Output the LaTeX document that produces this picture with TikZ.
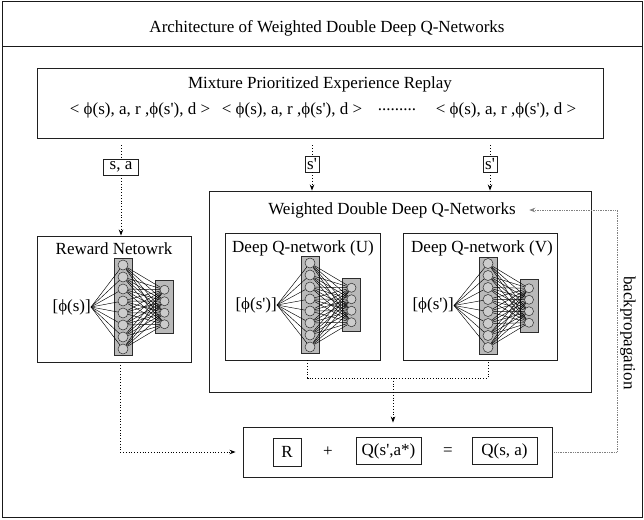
\documentclass[tikz,border=0pt]{standalone}
\usepackage{fontspec}
\setmainfont{Liberation Serif}
\usetikzlibrary{arrows.meta}

\begin{document}
\begin{tikzpicture}[x=1pt, y=-1pt,
    font=\fontsize{17}{20}\selectfont,
    box/.style={draw=gray!25!black, line width=0.9pt, inner sep=0pt},
    tag/.style={draw=gray!25!black, line width=0.8pt, inner sep=0pt, minimum height=16pt, fill=white},
    layer/.style={draw=gray!35!black, fill=gray!55, line width=0.6pt, inner sep=0pt, minimum width=18pt},
    unit/.style={circle, draw=gray!35!black, fill=gray!40, inner sep=0pt, line width=0.5pt},
    wire/.style={line width=0.45pt},
    link/.style={dotted, line width=0.8pt},
    flow/.style={link, -{Stealth[length=6pt,width=4.5pt]}},
    backflow/.style={densely dotted, gray, line width=0.7pt, -{Stealth[length=6pt,width=4.5pt]}}]
    \useasboundingbox (0,0) rectangle (644,519);

    % Frame and title
    \draw[draw=gray!20!black, line width=1pt] (2,2) rectangle (642,517);
    \draw[draw=gray!20!black, line width=1pt] (2,47) -- (642,47);
    \node (title) at (327,28) {Architecture of Weighted Double Deep Q-Networks};

    % Replay memory
    \node[box, minimum width=566pt, minimum height=70pt] (replay) at (320,103) {};
    \node (replaytitle) at (320,84) {Mixture Prioritized Experience Replay};
    \node (tup1) at (140,110) {< ϕ(s), a, r ,ϕ(s\textquotesingle), d >};
    \node (tup2) at (292,110) {< ϕ(s), a, r ,ϕ(s\textquotesingle), d >};
    \node (tupdots) at (397,110) {.........};
    \node (tup3) at (506,110) {< ϕ(s), a, r ,ϕ(s\textquotesingle), d >};

    % Sampled inputs
    \node[tag, minimum width=35pt] (sa) at (121,167) {s, a};
    \node[tag, minimum width=14pt] (su) at (312,164) {s\textquotesingle};
    \node[tag, minimum width=14pt] (sv) at (490,164) {s\textquotesingle};

    % Reward network
    \node[box, minimum width=154pt, minimum height=126pt] (reward) at (114,299) {};
    \node (rtitle) at (114,249) {Reward Netowrk};

    % Weighted double deep Q-networks
    \node[box, minimum width=382pt, minimum height=201pt] (wddqn) at (400.5,291.5) {};
    \node (wtitle) at (392,210) {Weighted Double Deep Q-Networks};
    \node[box, minimum width=155pt, minimum height=127pt] (qu) at (302.5,296.5) {};
    \node (utitle) at (303,248) {Deep Q-network (U)};
    \node[box, minimum width=154pt, minimum height=127pt] (qv) at (480,296.5) {};
    \node (vtitle) at (482,248) {Deep Q-network (V)};

    % Layers of the three nets
    \foreach \n/\ix/\hx/\ox/\cy/\lab in {rw/91/123/164.5/307/{[ϕ(s)]},
        u/277/310/351.5/305/{[ϕ(s\textquotesingle)]}, v/454/488/529/305.5/{[ϕ(s\textquotesingle)]}} {
      \node[anchor=east, inner sep=0pt] (\n-in) at (\ix,\cy) {\lab};
      \node[layer, minimum height=97pt] (\n-hid) at (\hx,\cy) {};
      \node[layer, minimum height=53pt] (\n-out) at (\ox,\cy) {};
      \foreach \i in {1,...,8}
        \node[unit, minimum size=10pt] (\n-h\i) at (\hx,{\cy+(\i-4.5)*12}) {};
      \foreach \j in {1,...,4}
        \node[unit, minimum size=9pt] (\n-o\j) at (\ox,{\cy+(\j-2.5)*11.5}) {};
      \foreach \i in {1,...,8} {
        \draw[wire] (\n-in.east) -- (\n-h\i);
        \foreach \j in {1,...,4}
          \draw[wire] (\n-h\i) -- (\n-o\j);
      }
    }

    % Target
    \node[box, minimum width=309pt, minimum height=50pt] (result) at (397.5,452) {};
    \node[tag, minimum width=28pt, minimum height=28pt] (rr) at (287,452) {R};
    \node (plus) at (328,452) {+};
    \node[tag, minimum width=65pt, minimum height=27pt] (qnext) at (388.5,451) {Q(s\textquotesingle,a*)};
    \node (eq) at (448,452) {=};
    \node[tag, minimum width=65pt, minimum height=27pt] (qsa) at (504.5,451) {Q(s, a)};

    % Connectors
    \draw[link, shorten <=7pt] (replay.south -| sa) -- (sa);
    \draw[flow] (sa) -- (reward.north -| sa);
    \draw[link, shorten <=7pt] (replay.south -| su) -- (su);
    \draw[flow] (su) -- (wddqn.north -| su);
    \draw[link, shorten <=7pt] (replay.south -| sv) -- (sv);
    \draw[flow] (sv) -- (wddqn.north -| sv);
    \draw[flow, shorten <=3pt, shorten >=7pt] ([xshift=6pt]reward.south) |- (result.west);
    \coordinate (merge) at (393,378);
    \draw[link] ([xshift=5pt]qu.south) |- (merge) -| ([xshift=8pt]qv.south);
    \draw[flow, shorten >=4pt] (merge) -- (result.north -| merge);
    \coordinate (bpturn) at (617,210);
    \draw[backflow, shorten <=2pt, shorten >=10pt] (result.east) -| (bpturn) -- (wtitle.east);
    \node[rotate=-90] (bplabel) at (628,333) {backpropagation};
\end{tikzpicture}
\end{document}
